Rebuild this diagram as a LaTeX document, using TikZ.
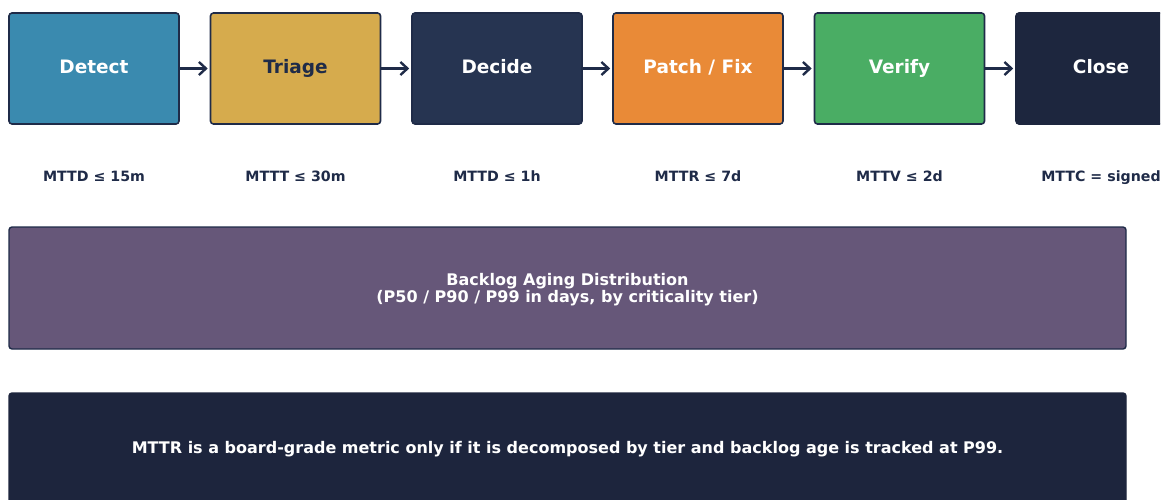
\documentclass[tikz,border=0pt]{standalone}
\usepackage{fontspec}
\setmainfont{DejaVu Sans}
\usetikzlibrary{arrows.meta}
\definecolor{navy}{HTML}{1F2B48}
\definecolor{cdetect}{HTML}{3A8AAF}
\definecolor{ctriage}{HTML}{D6AB4D}
\definecolor{cdecide}{HTML}{263451}
\definecolor{cpatch}{HTML}{E98A37}
\definecolor{cverify}{HTML}{4AAD64}
\definecolor{cclose}{HTML}{1D263E}
\definecolor{cpurple}{HTML}{665779}
\definecolor{cnote}{HTML}{1D253D}
\tikzset{
  stage/.style={draw=navy, line width=1.6pt, rounded corners=3pt, minimum width=170pt, minimum height=111pt, inner sep=0pt, font=\fontsize{18.5}{21}\selectfont\bfseries, text=white, text height=1.05em, text depth=0pt},
  metric/.style={font=\fontsize{14.2}{16}\selectfont\bfseries, text=navy, text height=0.93em, text depth=0pt, inner sep=0pt},
  flow/.style={draw=navy, line width=2.4pt, -{Straight Barb[length=7pt,width=13pt,line width=2.4pt]}, shorten >=2pt},
  band/.style={draw=navy, line width=1.4pt, rounded corners=3pt, minimum width=1117pt, inner sep=0pt, text=white, font=\fontsize{16}{17}\selectfont\bfseries, align=center}
}
\begin{document}
\begin{tikzpicture}[x=1pt,y=-1pt]
\useasboundingbox (0,0) rectangle (1166,500);
\clip (0,0) rectangle (1160,500);
\node[stage, fill=cdetect] (detect) at (94,68.5) {Detect};
\node[stage, fill=ctriage, text=navy] (triage) at (295.5,68.5) {Triage};
\node[stage, fill=cdecide] (decide) at (497,68.5) {Decide};
\node[stage, fill=cpatch] (patch) at (698,68.5) {Patch / Fix};
\node[stage, fill=cverify] (verify) at (899.5,68.5) {Verify};
\node[stage, fill=cclose, draw=cclose] (close) at (1101,68.5) {Close};
\draw[flow] (detect) -- (triage);
\draw[flow] (triage) -- (decide);
\draw[flow] (decide) -- (patch);
\draw[flow] (patch) -- (verify);
\draw[flow] (verify) -- (close);
\node[metric] (m1) at (94,176.5) {MTTD ≤ 15m};
\node[metric] (m2) at (295.5,176.5) {MTTT ≤ 30m};
\node[metric] (m3) at (497,176.5) {MTTD ≤ 1h};
\node[metric] (m4) at (698,176.5) {MTTR ≤ 7d};
\node[metric] (m5) at (899.5,176.5) {MTTV ≤ 2d};
\node[metric] (m6) at (1101,176.5) {MTTC = signed};
\node[band, fill=cpurple, minimum height=122pt] (backlog) at (567.5,288) {};
\node[text=white, font=\fontsize{16}{17}\selectfont\bfseries, align=center, inner sep=0pt] (backlogtext) at (567.5,289.5) {Backlog Aging Distribution\\(P50 / P90 / P99 in days, by criticality tier)};
\node[band, fill=cnote, draw=cnote, minimum height=110pt, text height=1.05em, text depth=0pt] (note) at (567.5,448) {MTTR is a board-grade metric only if it is decomposed by tier and backlog age is tracked at P99.};
\end{tikzpicture}
\end{document}
